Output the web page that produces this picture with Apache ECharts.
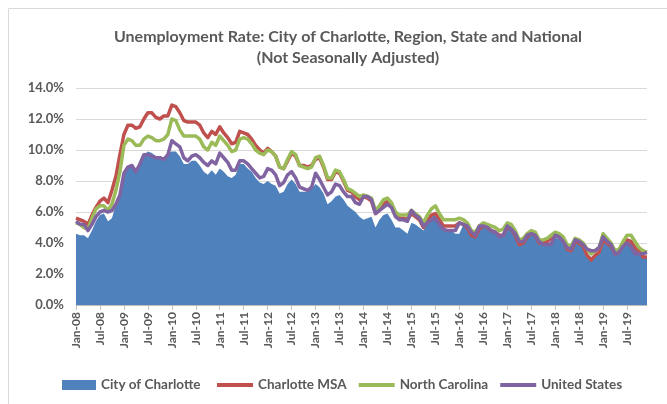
<!DOCTYPE html>
<html>
<head>
<meta charset="utf-8">
<script src="https://cdn.jsdelivr.net/npm/echarts@6/dist/echarts.min.js"></script>
<style>
  html, body { margin: 0; padding: 0; background: #fff; }
  #chart { width: 667px; height: 404px; }
</style>
</head>
<body>
<div id="chart"></div>
<script>
// Monthly labels, Jan-08 .. Dec-19
const monthNames = ['Jan', 'Feb', 'Mar', 'Apr', 'May', 'Jun', 'Jul', 'Aug', 'Sep', 'Oct', 'Nov', 'Dec'];
const years = ['08', '09', '10', '11', '12', '13', '14', '15', '16', '17', '18', '19'];
const months = [];
years.forEach(y => monthNames.forEach(m => months.push(m + '-' + y)));

// Unemployment rates (%)
const cityCharlotte = [
  4.6, 4.5, 4.5, 4.3, 4.8, 5.4, 5.8, 5.9, 5.4, 5.6, 6.5, 7.2,
  8.4, 8.9, 8.9, 8.6, 9.0, 9.7, 9.9, 9.8, 9.6, 9.6, 9.5, 9.8,
  9.9, 9.9, 9.6, 9.1, 9.1, 9.3, 9.3, 9.0, 8.6, 8.4, 8.7, 8.4,
  8.8, 8.6, 8.3, 8.2, 8.4, 9.1, 9.1, 8.8, 8.6, 8.2, 7.9, 7.8,
  8.0, 7.8, 7.7, 7.2, 7.3, 7.8, 8.1, 7.8, 7.3, 7.3, 7.3, 7.5,
  7.8, 7.6, 7.2, 6.5, 6.7, 7.0, 7.1, 6.8, 6.4, 6.2, 6.0, 5.7,
  5.5, 5.6, 5.7, 5.0, 5.5, 5.8, 5.9, 5.5, 5.0, 5.0, 4.8, 4.6,
  5.3, 5.2, 5.0, 4.8, 5.3, 5.7, 5.8, 5.1, 4.9, 4.9, 4.8, 4.6,
  4.6, 5.2, 5.1, 4.6, 4.4, 4.9, 5.1, 5.0, 4.8, 4.7, 4.5, 4.5,
  5.0, 4.8, 4.5, 3.9, 4.0, 4.4, 4.6, 4.5, 4.0, 4.0, 4.0, 4.1,
  4.3, 4.3, 4.1, 3.5, 3.4, 4.0, 3.9, 3.7, 3.3, 3.1, 3.2, 3.4,
  4.1, 3.9, 3.7, 3.2, 3.3, 3.8, 4.0, 4.0, 3.6, 3.4, 3.1, 3.1
];
const charlotteMSA = [
  5.6, 5.5, 5.4, 5.2, 5.8, 6.3, 6.7, 6.9, 6.6, 7.4, 8.3, 9.7,
  11.0, 11.6, 11.6, 11.4, 11.5, 12.0, 12.4, 12.4, 12.1, 12.0, 12.2, 12.2,
  12.9, 12.8, 12.4, 11.9, 11.8, 11.8, 11.8, 11.6, 11.1, 10.8, 11.2, 11.0,
  11.5, 11.1, 10.8, 10.4, 10.5, 11.2, 11.1, 11.0, 10.7, 10.3, 10.0, 9.8,
  10.1, 9.9, 9.6, 8.9, 8.8, 9.3, 9.8, 9.6, 9.0, 9.0, 8.9, 9.0,
  9.4, 9.5, 8.9, 8.1, 8.1, 8.6, 8.5, 8.0, 7.4, 7.3, 7.0, 6.8,
  7.0, 6.9, 6.7, 5.9, 6.1, 6.5, 6.7, 6.4, 5.8, 5.6, 5.6, 5.5,
  5.9, 5.7, 5.5, 5.0, 5.4, 5.8, 5.9, 5.5, 5.1, 5.1, 5.1, 5.1,
  5.3, 5.2, 5.0, 4.5, 4.4, 4.9, 5.1, 5.0, 4.8, 4.7, 4.5, 4.5,
  5.0, 4.9, 4.5, 3.9, 4.0, 4.4, 4.6, 4.5, 4.0, 4.0, 4.1, 4.3,
  4.5, 4.4, 4.2, 3.6, 3.5, 4.1, 4.0, 3.8, 3.2, 2.9, 3.2, 3.4,
  4.2, 4.0, 3.8, 3.3, 3.4, 3.9, 4.2, 4.1, 3.7, 3.5, 3.1, 3.1
];
const northCarolina = [
  5.3, 5.2, 5.0, 4.9, 5.6, 6.2, 6.4, 6.4, 6.1, 6.5, 7.4, 8.6,
  10.3, 10.7, 10.6, 10.3, 10.3, 10.7, 10.9, 10.8, 10.6, 10.6, 10.7, 11.0,
  12.0, 11.9, 11.3, 10.9, 10.9, 10.9, 10.9, 10.7, 10.2, 10.0, 10.5, 10.3,
  10.9, 10.6, 10.3, 9.9, 10.0, 10.7, 10.8, 10.7, 10.4, 10.0, 9.8, 9.7,
  10.0, 9.9, 9.6, 8.9, 8.8, 9.4, 9.9, 9.7, 9.0, 8.9, 8.8, 8.9,
  9.5, 9.6, 9.0, 8.2, 8.2, 8.7, 8.6, 8.1, 7.5, 7.4, 7.2, 7.0,
  7.1, 7.0, 6.9, 6.1, 6.4, 6.8, 6.9, 6.6, 6.0, 5.8, 5.8, 5.8,
  6.1, 5.9, 5.7, 5.3, 5.8, 6.2, 6.4, 5.9, 5.5, 5.5, 5.5, 5.5,
  5.6, 5.5, 5.3, 4.8, 4.7, 5.1, 5.3, 5.2, 5.1, 5.0, 4.8, 4.9,
  5.3, 5.2, 4.8, 4.2, 4.3, 4.6, 4.8, 4.7, 4.2, 4.2, 4.3, 4.5,
  4.7, 4.6, 4.4, 3.9, 3.8, 4.3, 4.2, 4.0, 3.6, 3.3, 3.5, 3.7,
  4.6, 4.3, 4.0, 3.5, 3.6, 4.1, 4.5, 4.5, 4.1, 3.7, 3.5, 3.4
];
const unitedStates = [
  5.4, 5.2, 5.2, 4.8, 5.2, 5.7, 6.0, 6.1, 6.0, 6.1, 6.5, 7.1,
  8.5, 8.9, 9.0, 8.6, 9.1, 9.7, 9.7, 9.6, 9.5, 9.5, 9.4, 9.7,
  10.6, 10.4, 10.2, 9.5, 9.3, 9.6, 9.7, 9.5, 9.2, 9.0, 9.3, 9.1,
  9.8, 9.5, 9.2, 8.7, 8.7, 9.3, 9.3, 9.1, 8.8, 8.5, 8.2, 8.3,
  8.8, 8.7, 8.4, 7.7, 7.9, 8.4, 8.6, 8.2, 7.6, 7.5, 7.4, 7.6,
  8.5, 8.1, 7.6, 7.1, 7.3, 7.8, 7.7, 7.3, 7.0, 7.0, 6.6, 6.5,
  7.0, 7.0, 6.8, 5.9, 6.1, 6.3, 6.5, 6.3, 5.7, 5.5, 5.5, 5.4,
  6.1, 5.8, 5.6, 5.1, 5.3, 5.5, 5.6, 5.2, 4.9, 4.8, 4.8, 4.8,
  5.3, 5.2, 5.1, 4.7, 4.5, 5.1, 5.1, 5.0, 4.8, 4.7, 4.4, 4.5,
  5.1, 4.9, 4.6, 4.1, 4.1, 4.5, 4.6, 4.5, 4.1, 3.9, 3.9, 3.9,
  4.5, 4.4, 4.1, 3.7, 3.6, 4.2, 4.1, 3.9, 3.6, 3.5, 3.5, 3.7,
  4.4, 4.1, 3.9, 3.3, 3.4, 3.8, 4.0, 3.8, 3.3, 3.3, 3.3, 3.4
];

const textColor = '#595959';
const font = 'Lato, "Open Sans", sans-serif';

const chart = echarts.init(document.getElementById('chart'));

function lineSeries(name, data, color) {
  return {
    name: name,
    type: 'line',
    data: data,
    showSymbol: false,
    color: color,
    lineStyle: { width: 3.5, color: color, join: 'round' }
  };
}

const option = {
  backgroundColor: '#fff',
  animation: false,
  textStyle: { fontFamily: font },
  graphic: [{
    type: 'rect',
    shape: { x: 8.5, y: 8.5, width: 700, height: 420 },
    style: { fill: 'none', stroke: '#d9d9d9', lineWidth: 1 },
    silent: true
  }],
  title: {
    text: 'Unemployment Rate: City of Charlotte, Region, State and National\n(Not Seasonally Adjusted)',
    left: 343,
    textAlign: 'center',
    top: 21,
    textStyle: {
      color: textColor,
      fontFamily: font,
      fontSize: 16,
      fontWeight: 'bold',
      lineHeight: 21
    }
  },
  legend: [{
    data: ['City of Charlotte'],
    left: 57,
    top: 373,
    icon: 'rect',
    itemWidth: 34,
    itemHeight: 10,
    itemGap: 4,
    textStyle: { color: textColor, fontSize: 13.5, fontWeight: 'bold', fontFamily: font }
  }, {
    data: ['Charlotte MSA', 'North Carolina', 'United States'],
    left: 212,
    top: 373,
    icon: 'rect',
    itemWidth: 36,
    itemHeight: 4,
    itemGap: 12,
    textStyle: { color: textColor, fontSize: 13.5, fontWeight: 'bold', fontFamily: font }
  }],
  grid: {
    left: 76,
    right: 20,
    top: 88,
    bottom: 99
  },
  xAxis: {
    type: 'category',
    data: months,
    boundaryGap: false,
    axisLine: { lineStyle: { color: '#bfbfbf', width: 1 } },
    axisTick: { interval: 5, length: 5, lineStyle: { color: '#bfbfbf' } },
    axisLabel: {
      interval: 5,
      rotate: 90,
      color: textColor,
      fontSize: 12,
      fontWeight: 'bold',
      margin: 7
    },
    splitLine: { show: false }
  },
  yAxis: {
    type: 'value',
    min: 0,
    max: 14,
    interval: 2,
    axisLine: { show: false },
    axisTick: { show: false },
    axisLabel: {
      color: textColor,
      fontSize: 13,
      fontWeight: 'bold',
      margin: 12,
      formatter: v => v.toFixed(1) + '%'
    },
    splitLine: { lineStyle: { color: '#d9d9d9', width: 1 } }
  },
  series: [
    {
      name: 'City of Charlotte',
      type: 'line',
      data: cityCharlotte,
      showSymbol: false,
      color: '#4f81bd',
      lineStyle: { width: 0 },
      areaStyle: { color: '#4f81bd', opacity: 1 }
    },
    lineSeries('Charlotte MSA', charlotteMSA, '#c0504d'),
    lineSeries('North Carolina', northCarolina, '#9bbb59'),
    lineSeries('United States', unitedStates, '#8064a2')
  ]
};

chart.setOption(option);
</script>
</body>
</html>
